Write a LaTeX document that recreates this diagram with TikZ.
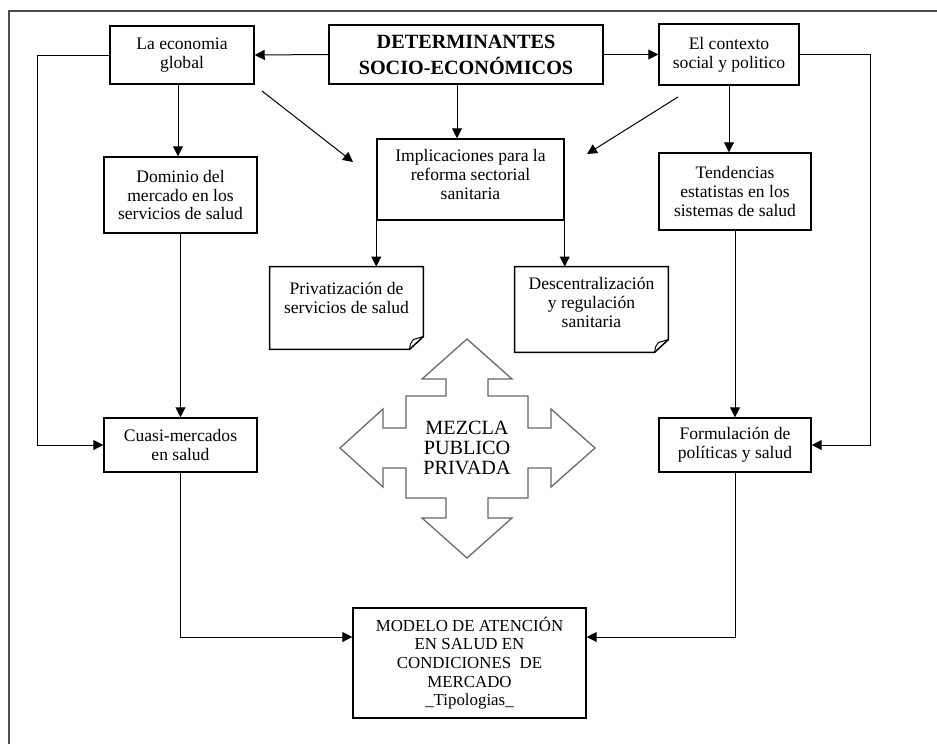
\documentclass[tikz,border=0pt]{standalone}
\usepackage{fontspec}
\setmainfont{Liberation Serif}
\usetikzlibrary{arrows.meta}

\begin{document}
\begin{tikzpicture}[x=0.02cm,y=-0.02cm,line width=0.2mm,
    box/.style={draw,line width=0.3mm,align=center,inner sep=1pt,font=\fontsize{10}{10.8}\selectfont},
    notebox/.style={align=center,inner sep=1pt,font=\fontsize{10}{10.8}\selectfont},
    arr/.style={-{Triangle[length=2mm,width=2mm]}},
    mixarrow/.style={draw=black!60,line width=0.25mm,fill=white}]

    \clip (0,0) rectangle (937,744);
    \draw[black!70,line width=0.25mm] (9,11) rectangle (990,790);

    % boxes
    \node[box,minimum width=2.88cm,minimum height=1.16cm] (econ) at (182,55) {La economia\\global};
    \node[box,minimum width=5.48cm,minimum height=1.18cm,font=\fontsize{11.5}{14.8}\selectfont\bfseries] (det) at (466,54.5) {DETERMINANTES\\SOCIO-ECONÓMICOS};
    \node[box,minimum width=2.8cm,minimum height=1.22cm] (ctx) at (729,54.5) {El contexto\\social y politico};
    \node[box,minimum width=3.74cm,minimum height=1.62cm,text depth=0.22cm] (impl) at (470.5,179.5) {Implicaciones para la\\reforma sectorial\\sanitaria};
    \node[box,minimum width=3.06cm,minimum height=1.52cm] (dom) at (180.5,195) {Dominio del\\mercado en los\\servicios de salud};
    \node[box,minimum width=3.04cm,minimum height=1.54cm] (tend) at (735,191.5) {Tendencias\\estatistas en los\\sistemas de salud};
    \node[notebox,minimum width=3.06cm,minimum height=1.64cm,text depth=0.4cm] (priv) at (346.5,308) {Privatización de\\servicios de salud};
    \node[notebox,minimum width=3.06cm,minimum height=1.70cm,text depth=0.3cm] (desc) at (591.5,309.5) {Descentralización\\y regulación\\sanitaria};
    \node[box,minimum width=3.06cm,minimum height=1.08cm] (cuasi) at (180.5,445) {Cuasi-mercados\\en salud};
    \node[box,minimum width=3.04cm,minimum height=1.08cm] (form) at (735,445) {Formulación de\\políticas y salud};
    \node[box,minimum width=4.66cm,minimum height=2.2cm,font=\fontsize{9.6}{10.6}\selectfont] (modelo) at (469.5,663) {MODELO DE ATENCIÓN\\EN SALUD EN\\CONDICIONES~ DE\\MERCADO\\\_Tipologias\_};

    % folded corners
    \foreach \n in {priv,desc} {
        \draw[line width=0.3mm] (\n.north west) -- (\n.north east) -- ([yshift=0.26cm]\n.south east)
            -- ([xshift=-0.28cm]\n.south east) -- (\n.south west) -- cycle;
        \draw[line width=0.2mm] ([xshift=-0.28cm]\n.south east) .. controls ([xshift=-0.26cm,yshift=0.12cm]\n.south east) .. ([xshift=-0.2cm,yshift=0.2cm]\n.south east) -- ([yshift=0.26cm]\n.south east);
    }

    % mezcla publico privada
    \draw[mixarrow] (467,448) ++(0,-109) -- ++(45,40) -- ++(-24,0) -- ++(0,17) -- ++(40,0) -- ++(0,32)
        -- ++(23,0) -- ++(0,-19) -- ++(44,39) -- ++(-44,39) -- ++(0,-19) -- ++(-23,0) -- ++(0,30)
        -- ++(-40,0) -- ++(0,20) -- ++(24,0) -- ++(-45,40) -- ++(-45,-40) -- ++(24,0) -- ++(0,-20)
        -- ++(-40,0) -- ++(0,-30) -- ++(-23,0) -- ++(0,19) -- ++(-43,-39) -- ++(43,-39) -- ++(0,19)
        -- ++(23,0) -- ++(0,-32) -- ++(40,0) -- ++(0,-17) -- ++(-24,0) -- cycle;
    \node[align=center,inner sep=0pt,font=\fontsize{11.5}{11.4}\selectfont] (mix) at (467,448) {MEZCLA\\PUBLICO\\PRIVADA};

    % connectors
    \draw[arr] (det.west) -- (econ.east);
    \draw[arr] (det.east) -- (ctx.east -| ctx.west);
    \draw[arr] ([xshift=-0.18cm]det.south) -- ([xshift=-0.18cm]det.south |- impl.north);
    \draw[arr] ([xshift=-0.08cm]econ.south) -- ([xshift=-0.08cm]econ.south |- dom.north);
    \draw[arr] (ctx.south) -- (ctx.south |- tend.north);
    \draw[arr] (impl.south west) -- (impl.south west |- priv.north);
    \draw[arr] (impl.south east) -- (impl.south east |- desc.north);
    \draw[arr] (dom) -- (cuasi);
    \draw[arr] (tend) -- (form);
    \draw[arr] (econ.west) -- +(-72,0) |- (cuasi.west);
    \draw[arr] (ctx.east) -- +(71,0) |- (form.east);
    \draw[arr] (cuasi.south) |- ([yshift=0.52cm]modelo.west);
    \draw[arr] (form.south) |- ([yshift=0.52cm]modelo.east);

    \coordinate (d1s) at (262,91);
    \coordinate (d1e) at (353,162);
    \coordinate (d2s) at (678,97);
    \coordinate (d2e) at (587,154);
    \draw[arr] (d1s) -- (d1e);
    \draw[arr] (d2s) -- (d2e);
\end{tikzpicture}
\end{document}
